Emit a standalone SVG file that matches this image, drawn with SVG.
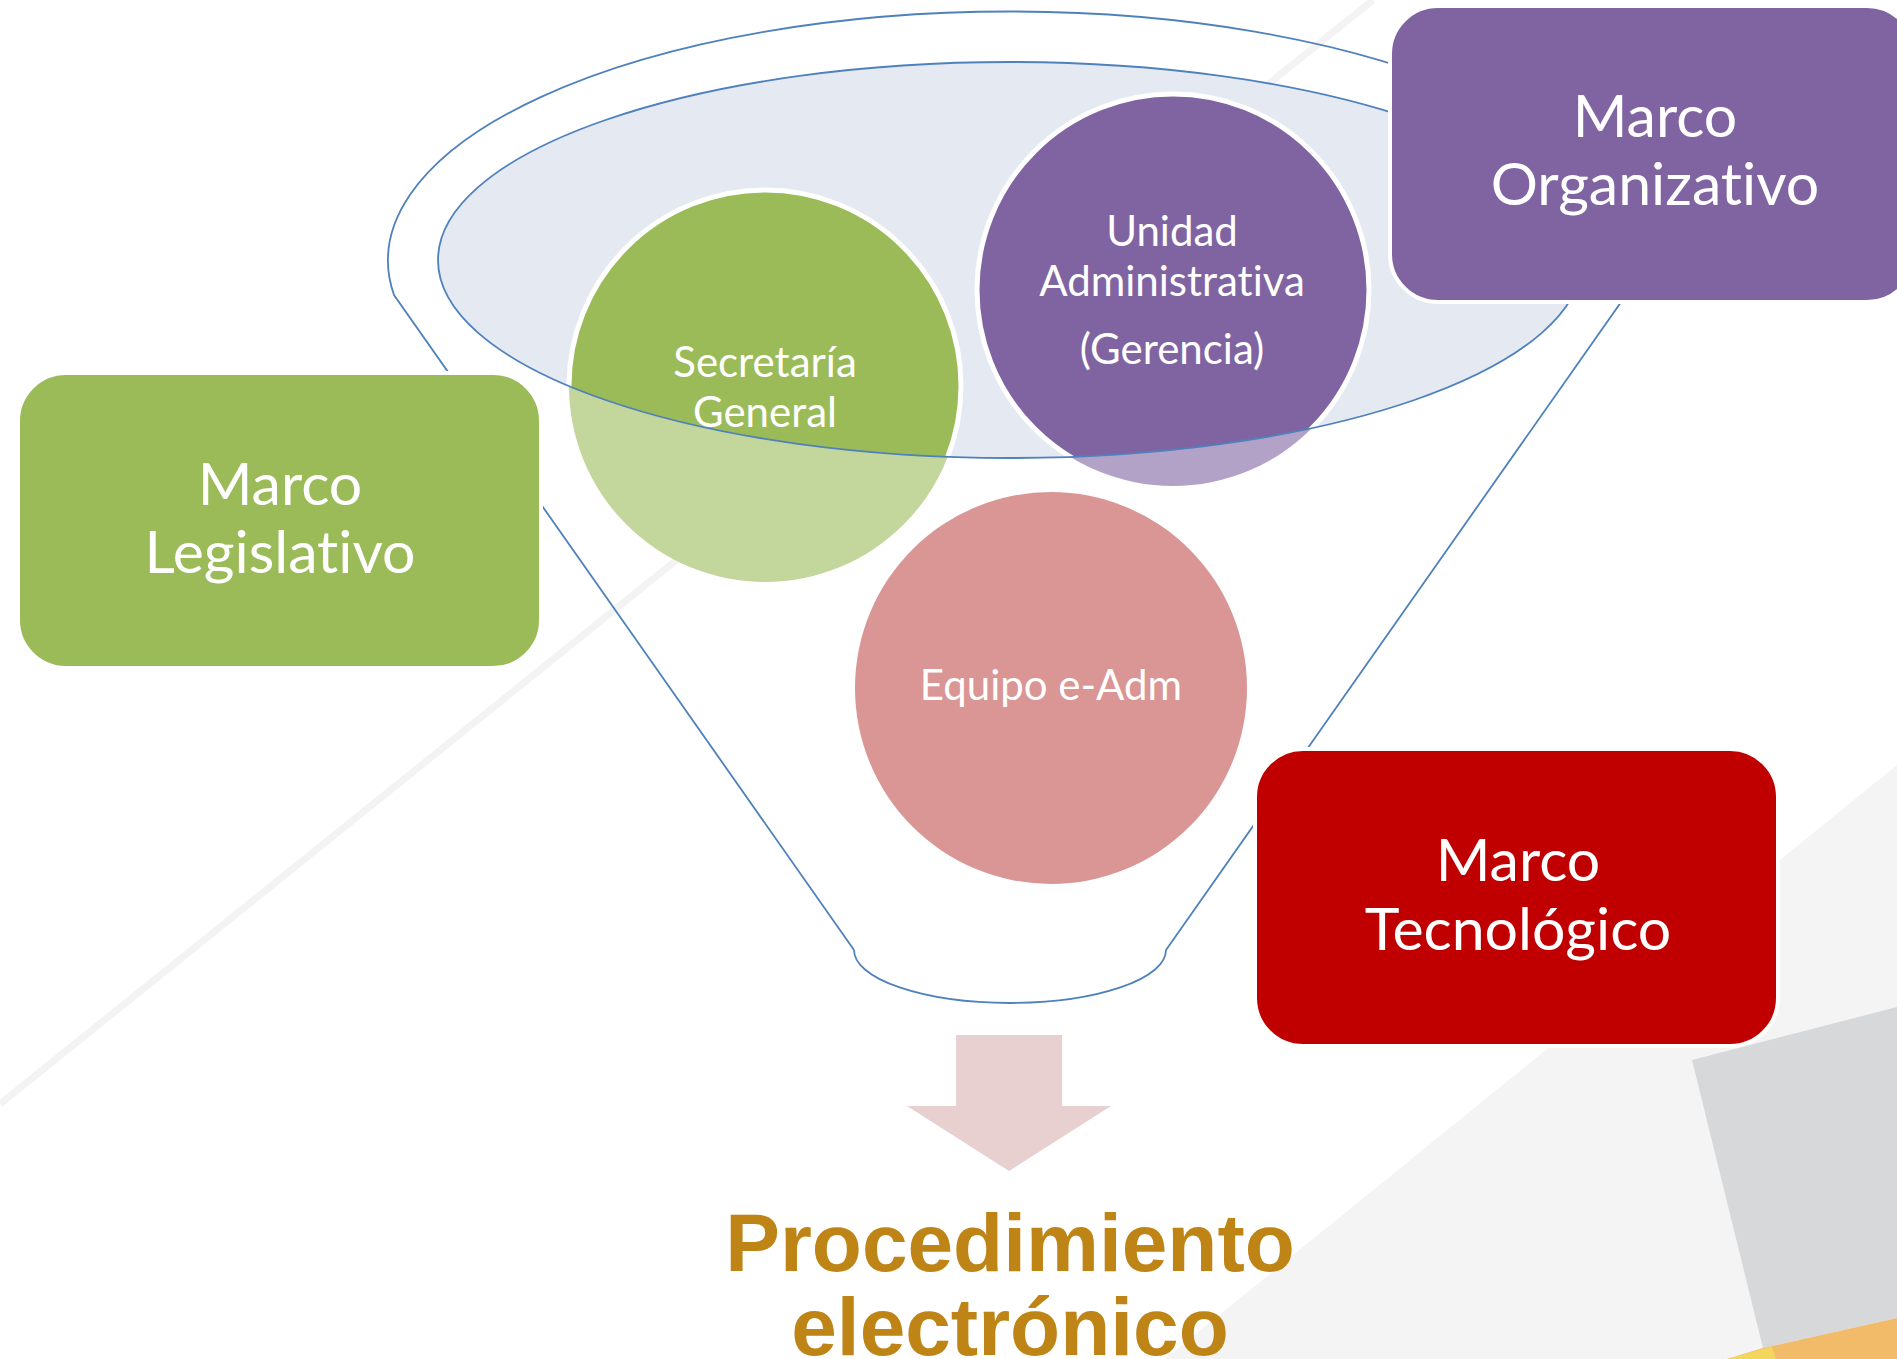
<svg xmlns="http://www.w3.org/2000/svg" width="1897" height="1359" viewBox="0 0 1897 1359">
  <style>
    .lbl { font-family: Lato, "Noto Sans", sans-serif; fill: #FFFFFF; text-anchor: middle; font-variant-ligatures: none; font-feature-settings: "liga" 0, "clig" 0; }
    .big { font-size: 59px; }
    .small { font-size: 42px; }
    .box { stroke: #FFFFFF; stroke-width: 4; }
    .circ { stroke: #FFFFFF; stroke-width: 5; }
    .funnel { fill: none; stroke: #4F81BD; stroke-width: 1.8; }
    .title { font-family: "Liberation Sans", Arial, sans-serif; font-weight: bold; font-size: 82px; fill: #BF8416; text-anchor: middle; }
  </style>
  <defs>
    <clipPath id="inner">
      <ellipse cx="1010" cy="260" rx="572" ry="198"/>
    </clipPath>
  </defs>

  <!-- background -->
  <rect x="0" y="0" width="1897" height="1359" fill="#FFFFFF"/>
  <line x1="1373" y1="0" x2="0" y2="1104" stroke="#F3F3F3" stroke-width="7"/>
  <polygon points="1165,1359 1897,765 1897,1359" fill="#F4F4F4"/>
  <polygon points="1692,1060 1897,1007 1897,1318 1763,1348" fill="#D6D8D9"/>
  <polygon points="1763,1348 1897,1318 1897,1359 1727,1359" fill="#F2BB6A"/>
  <polygon points="1727,1359 1763,1349 1772,1347 1776,1359" fill="#F3D65C"/>

  <!-- funnel -->
  <g id="funnel">
    <path class="funnel" d="M 854 950 L 394 295 A 622 249 0 1 1 1626 295 L 1166 950 A 156 53 0 0 1 854 950"/>
    <ellipse cx="1010" cy="260" rx="572" ry="198" fill="#E4E9F2"/>
  </g>

  <!-- circles -->
  <g id="secretaria">
    <circle cx="765" cy="386" r="196" fill="#C3D69B"/>
    <circle cx="765" cy="386" r="196" fill="#9BBB59" class="circ" clip-path="url(#inner)"/>
  </g>
  <g id="unidad">
    <circle cx="1173" cy="290" r="196" fill="#B3A2C7"/>
    <circle cx="1173" cy="290" r="196" fill="#8064A2" class="circ" clip-path="url(#inner)"/>
  </g>
  <ellipse cx="1010" cy="260" rx="572" ry="198" fill="none" stroke="#4F81BD" stroke-width="1.8"/>
  <g id="secretaria-text">
    <text class="lbl small" x="765" y="377">Secretaría</text>
    <text class="lbl small" x="765" y="427">General</text>
  </g>
  <g id="unidad-text">
    <text class="lbl small" x="1172" y="246">Unidad</text>
    <text class="lbl small" x="1172" y="296">Administrativa</text>
    <text class="lbl small" x="1172" y="364">(Gerencia)</text>
  </g>
  <g id="equipo">
    <circle cx="1051" cy="688" r="196" fill="#D99694"/>
    <text class="lbl small" x="1051" y="700">Equipo e-Adm</text>
  </g>

  <!-- boxes -->
  <g id="marco-legislativo">
    <rect class="box" x="18" y="373" width="523" height="295" rx="48" ry="48" fill="#9BBB59"/>
    <text class="lbl big" x="280" y="505">Marco</text>
    <text class="lbl big" x="280" y="573">Legislativo</text>
  </g>
  <g id="marco-organizativo">
    <rect class="box" x="1390" y="6" width="525" height="296" rx="48" ry="48" fill="#8064A2"/>
    <text class="lbl big" x="1655" y="137">Marco</text>
    <text class="lbl big" x="1655" y="205">Organizativo</text>
  </g>
  <g id="marco-tecnologico">
    <rect class="box" x="1255" y="749" width="523" height="297" rx="48" ry="48" fill="#C00000"/>
    <text class="lbl big" x="1518" y="881">Marco</text>
    <text class="lbl big" x="1518" y="950">Tecnológico</text>
  </g>

  <!-- connectors -->
  <g id="connectors">
    <polygon points="956,1035 1062,1035 1062,1106 1111,1106 1009,1171 907,1106 956,1106" fill="#E8D0D1"/>
  </g>

  <g id="procedimiento">
    <text class="title" x="1010" y="1271">Procedimiento</text>
    <text class="title" x="1010" y="1355">electrónico</text>
  </g>
</svg>
